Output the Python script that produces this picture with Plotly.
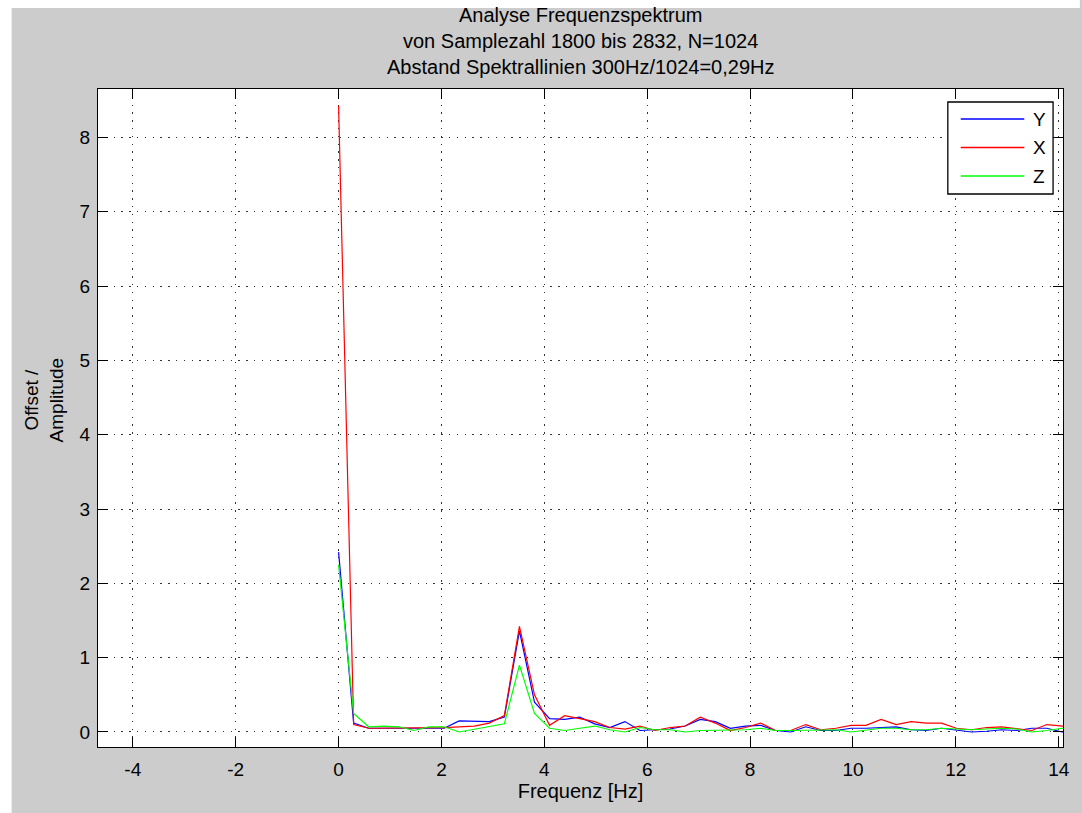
import plotly.graph_objects as go

# ---------------- data ----------------
freq_hz = [0.000, 0.293, 0.586, 0.879, 1.172, 1.465, 1.758, 2.051, 2.344, 2.637,
           2.930, 3.223, 3.516, 3.809, 4.102, 4.395, 4.688, 4.980, 5.273, 5.566,
           5.859, 6.152, 6.445, 6.738, 7.031, 7.324, 7.617, 7.910, 8.203, 8.496,
           8.789, 9.082, 9.375, 9.668, 9.961, 10.254, 10.547, 10.840, 11.133, 11.426,
           11.719, 12.012, 12.305, 12.598, 12.891, 13.184, 13.477, 13.770, 14.062, 14.355]

amp_y = [2.42, 0.12, 0.05, 0.05, 0.05, 0.05, 0.04, 0.05, 0.15, 0.15,
         0.14, 0.20, 1.36, 0.40, 0.18, 0.17, 0.20, 0.11, 0.06, 0.14,
         0.02, 0.03, 0.04, 0.08, 0.17, 0.14, 0.05, 0.08, 0.09, 0.02,
         0.00, 0.07, 0.02, 0.02, 0.05, 0.05, 0.06, 0.07, 0.03, 0.02,
         0.05, 0.02, 0.00, 0.01, 0.03, 0.02, 0.05, 0.05, 0.00, 0.03]

amp_x = [8.43, 0.10, 0.05, 0.05, 0.05, 0.05, 0.05, 0.06, 0.07, 0.08,
         0.12, 0.22, 1.42, 0.50, 0.09, 0.22, 0.18, 0.14, 0.06, 0.04,
         0.08, 0.02, 0.06, 0.08, 0.20, 0.12, 0.02, 0.06, 0.12, 0.02,
         0.02, 0.10, 0.03, 0.05, 0.09, 0.09, 0.17, 0.10, 0.14, 0.12,
         0.12, 0.05, 0.03, 0.06, 0.07, 0.05, 0.02, 0.10, 0.08, 0.06]

amp_z = [2.25, 0.25, 0.07, 0.08, 0.07, 0.02, 0.07, 0.07, 0.00, 0.04,
         0.07, 0.11, 0.90, 0.25, 0.05, 0.02, 0.05, 0.08, 0.03, 0.00,
         0.06, 0.03, 0.03, 0.00, 0.02, 0.02, 0.03, 0.03, 0.05, 0.02,
         0.02, 0.02, 0.02, 0.03, 0.00, 0.02, 0.05, 0.05, 0.03, 0.03,
         0.05, 0.04, 0.03, 0.04, 0.05, 0.04, 0.00, 0.02, 0.05, 0.04]

series_names = ["Y", "X", "Z"]
series_colors = ["#0000ff", "#ff0000", "#00ff00"]
series_values = [amp_y, amp_x, amp_z]

x_ticks = [-4, -2, 0, 2, 4, 6, 8, 10, 12, 14]
y_ticks = [0, 1, 2, 3, 4, 5, 6, 7, 8]

title_lines = ["Analyse Frequenzspektrum",
               "von Samplezahl 1800 bis 2832, N=1024",
               "Abstand Spektrallinien 300Hz/1024=0,29Hz"]
x_label = "Frequenz [Hz]"
y_label_lines = ["Offset /", "Amplitude"]

# ---------------- layout geometry (pixels) ----------------
W, H = 1082, 813
L, R, T, B = 98, 12, 89, 66
PW, PH = W - L - R, H - T - B

def px(xp):
    return (xp - L) / PW

def py(yp):
    return (H - B - yp) / PH

FONT = "Liberation Sans, Arial, Helvetica, sans-serif"
FS = 20

fig = go.Figure()
for name, color, vals in zip(series_names, series_colors, series_values):
    fig.add_trace(go.Scatter(x=freq_hz, y=vals, mode="lines", name=name,
                             line=dict(color=color, width=1.2),
                             showlegend=False))

axis_common = dict(showline=True, linecolor="black", linewidth=1.3,
                   mirror="allticks", ticks="inside", ticklen=10,
                   tickwidth=1.3, tickcolor="black",
                   showgrid=True, gridcolor="#333333", gridwidth=1.3,
                   griddash="1.3px,6.5px", zeroline=False,
                   tickfont=dict(family=FONT, size=FS - 1, color="black"))

fig.update_xaxes(range=[-4.677, 14.083], tickvals=x_ticks,
                 ticktext=[str(v) for v in x_ticks], ticklabelstandoff=5,
                 title=dict(text=x_label, font=dict(family=FONT, size=FS, color="black"),
                            standoff=5),
                 **axis_common)
fig.update_yaxes(range=[-0.202, 8.652], tickvals=y_ticks, ticklabelstandoff=3,
                 ticktext=[str(v) for v in y_ticks], **axis_common)

shapes = []
annotations = []
# white strips at top and left of the figure
shapes.append(dict(type="rect", xref="paper", yref="paper", x0=px(-5), x1=px(W + 5),
                   y0=py(8), y1=py(-5), fillcolor="white", line=dict(width=0), layer="below"))
shapes.append(dict(type="rect", xref="paper", yref="paper", x0=px(-5), x1=px(11),
                   y0=py(H + 5), y1=py(-5), fillcolor="white", line=dict(width=0), layer="below"))

# title lines
for txt, yy in zip(title_lines, [15, 41, 67]):
    annotations.append(dict(xref="paper", yref="paper", x=0.5, y=py(yy), text=txt,
                            showarrow=False, xanchor="center", yanchor="middle",
                            font=dict(family=FONT, size=FS, color="black")))

# legend box
shapes.append(dict(type="rect", xref="paper", yref="paper", x0=px(954), x1=px(1060),
                   y0=py(194), y1=py(102), fillcolor="white",
                   line=dict(color="black", width=1.3), layer="above"))
for i, (name, color) in enumerate(zip(series_names, series_colors)):
    yy = 119 + i * 28.5
    shapes.append(dict(type="line", xref="paper", yref="paper", x0=px(967), x1=px(1031),
                       y0=py(yy), y1=py(yy), line=dict(color=color, width=1.3), layer="above"))
    annotations.append(dict(xref="paper", yref="paper", x=px(1038), y=py(yy), text=name,
                            showarrow=False, xanchor="left", yanchor="middle",
                            font=dict(family=FONT, size=FS - 1, color="black")))

# y-axis label (two lines, rotated)
annotations.append(dict(xref="paper", yref="paper", x=px(44), y=py(400),
                        text="<br>".join(y_label_lines), textangle=-90,
                        showarrow=False, xanchor="center", yanchor="middle",
                        font=dict(family=FONT, size=FS - 1, color="black")))

fig.update_layout(
    width=W, height=H,
    margin=dict(l=L, r=R, t=T, b=B, pad=0),
    paper_bgcolor="#cccccc", plot_bgcolor="white",
    shapes=shapes, annotations=annotations,
    showlegend=False,
)

fig.write_html("out.html")
